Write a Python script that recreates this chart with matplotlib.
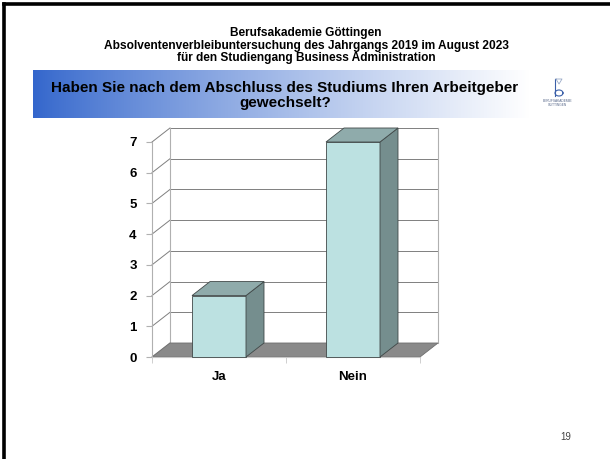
import numpy as np
import matplotlib.pyplot as plt
from matplotlib.patches import Polygon
from matplotlib.lines import Line2D

plt.rcParams['font.family'] = ['Liberation Sans', 'DejaVu Sans']

# Survey answers
categories = ['Ja', 'Nein']
counts = [2, 7]
y_ticks = [0, 1, 2, 3, 4, 5, 6, 7]

header = ['Berufsakademie Göttingen',
          'Absolventenverbleibuntersuchung des Jahrgangs 2019 im August 2023',
          'für den Studiengang Business Administration']
question = 'Haben Sie nach dem Abschluss des Studiums Ihren Arbeitgeber\ngewechselt?'
page_no = '19'

W, H = 610, 459
fig = plt.figure(figsize=(W / 100, H / 100), dpi=100)
fig.patch.set_facecolor('white')

def fx(px):
    return px / W

def fy(py):
    return 1 - py / H

# slide frame (only top and left edge visible)
fig.add_artist(Line2D([fx(4), 1], [fy(4), fy(4)], color='black', lw=2.6))
fig.add_artist(Line2D([fx(4), fx(4)], [fy(4), 0], color='black', lw=2.6))

# header text
for i, line in enumerate(header):
    fig.text(fx(306), fy(33 + i * 12.7), line, ha='center', va='center',
             fontsize=8.6, fontweight='bold')

# question band with blue-to-white gradient
band = fig.add_axes([fx(33), fy(118), fx(497), 48 / H])
grad = np.linspace(0, 1, 256)
c0 = np.array([0.20, 0.40, 0.80])
c1 = np.array([1.0, 1.0, 1.0])
img = c0[None, :] + (c1 - c0)[None, :] * grad[:, None] ** 0.85
band.imshow(img[None, :, :], aspect='auto', extent=[0, 1, 0, 1])
band.set_axis_off()
fig.text(fx(285), fy(95.5), question, ha='center', va='center',
         fontsize=11.0, fontweight='bold', linespacing=1.1)

# small logo on the right
logo = fig.add_axes([fx(540), fy(108), fx(36), 32 / H])
logo.set_xlim(0, 36)
logo.set_ylim(32, 0)
logo.set_axis_off()
lc = '#3a5fa8'
logo.plot([15, 15], [3, 20], color=lc, lw=0.8)
t = np.linspace(0, 2 * np.pi, 60)
logo.plot(19 + 4 * np.cos(t), 17 + 3 * np.sin(t), color=lc, lw=0.8)
logo.plot([16, 22, 19, 16], [3, 3, 8, 3], color='#9aaac8', lw=0.6)
logo.text(18, 25, 'BERUFSAKADEMIE', ha='center', va='center', fontsize=2.3, color='#556688')
logo.text(18, 28.5, 'GÖTTINGEN', ha='center', va='center', fontsize=2.3, color='#556688')

fig.text(fx(566), fy(437), page_no, ha='center', va='center', fontsize=7, color='#444444')

# chart: the axes is the front plane of the 3D box
ax = fig.add_axes([fx(152), fy(357), fx(268), 215 / H])
ax.set_xlim(-0.5, 1.5)
ax.set_ylim(0, 7)
ax.set_facecolor('none')

dx = 18 / 134      # depth offset in category units
dy = 14 / 30.71    # depth offset in value units
x0, x1, ytop = -0.5, 1.5, 7

grid_c = '#7f7f7f'
wall_c = '#b0b0b0'

# floor
ax.add_patch(Polygon([(x0, 0), (x1, 0), (x1 + dx, dy), (x0 + dx, dy)],
                     closed=True, facecolor='#8a8a8a', edgecolor='#6e6e6e',
                     lw=0.6, clip_on=False, zorder=1))
# back wall grid lines and edges
for v in y_ticks[1:]:
    ax.plot([x0 + dx, x1 + dx], [v + dy, v + dy], color=grid_c, lw=0.7,
            clip_on=False, zorder=0.5)
    ax.plot([x0, x0 + dx], [v, v + dy], color=grid_c, lw=0.7,
            clip_on=False, zorder=0.5)
ax.plot([x0 + dx, x0 + dx], [dy, ytop + dy], color=wall_c, lw=0.8, clip_on=False, zorder=0.5)
ax.plot([x1 + dx, x1 + dx], [dy, ytop + dy], color=wall_c, lw=0.8, clip_on=False, zorder=0.5)
ax.plot([x0, x0 + dx], [0, dy], color=wall_c, lw=0.8, clip_on=False, zorder=0.5)

# bars
bw = 54 / 134
for i, v in enumerate(counts):
    l, r = i - bw / 2, i + bw / 2
    ax.add_patch(Polygon([(l, 0), (r, 0), (r, v), (l, v)], closed=True,
                         facecolor='#bce1e1', edgecolor='#404848', lw=0.6,
                         clip_on=False, zorder=3))
    ax.add_patch(Polygon([(r, 0), (r + dx, dy), (r + dx, v + dy), (r, v)],
                         closed=True, facecolor='#758e8e', edgecolor='#404848',
                         lw=0.6, clip_on=False, zorder=3))
    ax.add_patch(Polygon([(l, v), (r, v), (r + dx, v + dy), (l + dx, v + dy)],
                         closed=True, facecolor='#8fabab', edgecolor='#404848',
                         lw=0.6, clip_on=False, zorder=3))

for s in ['top', 'right']:
    ax.spines[s].set_visible(False)
ax.spines['left'].set_color(wall_c)
ax.spines['bottom'].set_color('#c8c8c8')
ax.spines['left'].set_linewidth(0.8)
ax.spines['bottom'].set_linewidth(0.8)

ax.set_yticks(y_ticks)
ax.set_yticklabels([str(v) for v in y_ticks], fontsize=9.5, fontweight='bold')
ax.tick_params(axis='y', length=4, color=wall_c, pad=7)

ax.set_xticks(range(len(categories)))
ax.set_xticklabels(categories, fontsize=9.5, fontweight='bold')
ax.set_xticks([-0.5, 0.5, 1.5], minor=True)
ax.tick_params(axis='x', which='major', length=0, pad=10)
ax.tick_params(axis='x', which='minor', length=4, color='#c8c8c8')

fig.savefig('out.png', dpi=100)
